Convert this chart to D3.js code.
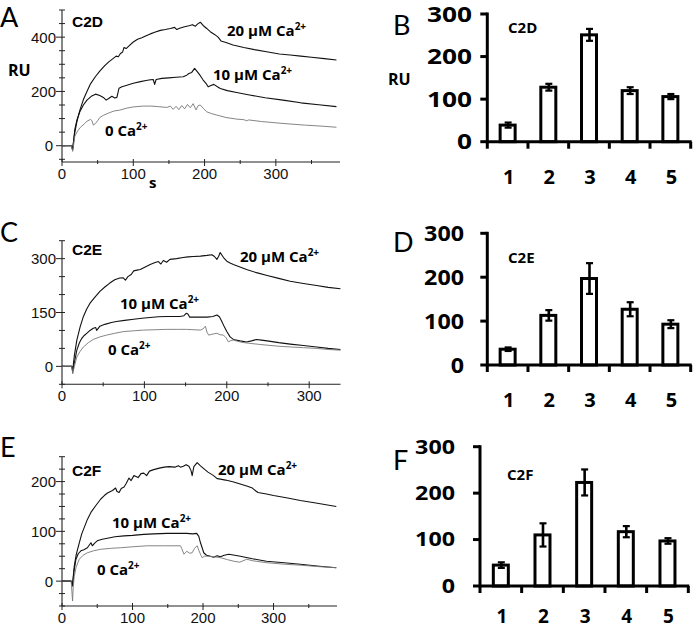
<!DOCTYPE html>
<html><head><meta charset="utf-8">
<script src="https://cdn.jsdelivr.net/npm/d3@7/dist/d3.min.js"></script>
<style>body{margin:0;background:#fff}</style>
</head><body>
<svg id="fig" width="693" height="630"></svg>
<script>
// ---------- DATA ----------
// Sensorgrams: [time (s), response (RU)]
const c2d_20 = [[0,0],[13,0],[15,-10],[18,50],[21,90],[25,130],[30,170],[35,200],[40,228],[47,255],[53,275],[60,295],[66,310],[72,322],[76,330],[79,328],[82,340],[85,345],[87,362],[90,358],[94,368],[100,382],[106,392],[112,398],[118,405],[124,412],[130,418],[138,425],[145,428],[152,432],[158,436],[161,428],[165,433],[172,438],[178,442],[183,446],[187,440],[190,448],[194,455],[198,443],[203,432],[208,420],[214,410],[219,400],[223,386],[230,380],[240,371],[255,362],[270,354],[287,346],[305,338],[320,334],[335,330],[350,326],[368,321],[385,316]];
const c2d_10 = [[0,0],[13,0],[15,-15],[18,60],[21,95],[25,125],[30,150],[35,168],[41,182],[47,190],[53,185],[58,178],[62,168],[66,175],[70,182],[74,176],[77,178],[80,212],[84,217],[90,222],[100,230],[110,236],[118,240],[124,243],[128,244],[130,226],[132,244],[140,248],[150,250],[160,252],[170,254],[175,260],[178,266],[182,270],[186,285],[190,272],[194,258],[198,242],[202,230],[205,217],[209,222],[213,226],[218,217],[222,211],[232,203],[245,196],[263,187],[285,177],[310,168],[335,158],[360,151],[385,144]];
const c2d_0 = [[0,0],[13,0],[15,-21],[18,35],[22,55],[26,68],[31,80],[35,90],[40,97],[42,92],[44,76],[47,82],[50,92],[53,104],[58,112],[65,120],[73,128],[81,131],[90,138],[100,143],[114,146],[125,146],[135,144],[147,141],[152,146],[156,134],[160,145],[164,133],[168,148],[172,136],[176,152],[180,140],[184,155],[188,132],[191,148],[194,150],[198,138],[203,125],[210,118],[217,113],[230,104],[245,98],[255,96],[259,92],[262,95],[280,89],[310,82],[340,76],[365,72],[385,68]];

const c2e_20 = [[0,0],[12,0],[13,-11],[15,30],[18,73],[22,110],[26,139],[30,160],[34,176],[40,193],[46,209],[52,221],[58,232],[64,241],[70,246],[74,247],[77,240],[80,250],[84,256],[87,266],[91,268],[95,270],[101,277],[107,284],[113,289],[117,292],[120,285],[123,295],[127,290],[131,298],[139,300],[147,303],[153,305],[160,306],[168,307],[176,309],[182,311],[185,306],[188,298],[190,306],[192,317],[196,303],[200,293],[204,288],[208,284],[216,277],[224,270],[236,261],[249,253],[263,245],[277,237],[293,231],[309,225],[323,220],[338,216]];
const c2e_10 = [[0,0],[12,0],[13,-16],[15,10],[18,45],[21,65],[24,78],[27,86],[30,92],[34,100],[38,106],[41,108],[42,100],[44,106],[46,112],[52,117],[60,122],[66,125],[76,128],[87,131],[97,134],[107,136],[117,138],[127,139],[137,139],[143,139],[148,141],[151,148],[153,145],[155,137],[165,137],[176,137],[183,139],[188,143],[191,138],[194,125],[197,110],[200,97],[204,82],[208,75],[216,71],[224,68],[230,71],[236,75],[242,73],[249,71],[263,66],[277,62],[293,58],[309,54],[323,50],[338,47]];
const c2e_0 = [[0,0],[12,0],[13,-21],[15,0],[18,26],[22,42],[26,54],[32,66],[38,75],[46,82],[54,87],[64,92],[75,97],[87,99],[99,101],[113,102],[127,103],[140,103],[151,103],[160,102],[168,101],[171,104],[174,112],[176,95],[178,87],[183,90],[188,92],[192,88],[196,87],[199,80],[202,68],[205,72],[208,73],[218,67],[228,64],[240,61],[249,59],[263,56],[277,54],[293,52],[309,50],[323,47],[338,45]];

const c2f_20 = [[0,0],[13,0],[15,-5],[17.4,30],[20,52],[24.5,77],[28,95],[31.6,108],[36,124],[41,138],[48,152],[55,165],[60,172],[64.5,177],[71.6,182],[76,187],[78,180],[81,178],[84,186],[88,189],[91,196],[95,207],[98,202],[102,212],[108,208],[112,216],[116,217],[120,212],[124,221],[130,224],[138,227],[145,229],[152,230],[160,229],[165,232],[168,229],[172,231],[176,234],[180,231],[183,222],[184.6,212],[187,230],[191.7,238],[196,232],[201,226],[207,219],[215,212],[220,206],[224.7,205],[232,203],[243.5,199],[255,194],[262,191],[270,187],[275,181],[278,178],[290,175],[300,172],[320,167],[338,162],[360,157],[389,150]];
const c2f_10 = [[0,0],[13,0],[15,-10],[17,20],[19.8,44],[23,55],[26.8,61],[31,63],[36,67],[39,73],[41,77],[43,71],[46,76],[50,81],[57,84],[64.5,86],[75,89],[88,91],[100,92],[116,94],[130,95],[149,96],[165,96],[177,96],[185,95],[191,96],[194,90],[196.4,77],[199,66],[201,57],[205,52],[210.6,50],[215,48],[220,51],[224.7,49],[230,52],[236.5,54],[245,52],[253,50],[270,45],[290,40],[315,37],[338,34],[365,30],[389,27]];
const c2f_0 = [[0,0],[13,0],[14,-20],[15,-40],[16,-10],[17.4,10],[20,28],[24.5,44],[30,52],[36,57],[45,61],[55,64],[70,66],[83,67],[100,69],[121,71],[145,71],[168,71],[170,65],[173,54],[177,60],[181,56],[184.6,57],[188,66],[191.7,71],[194,62],[197,52],[199,47],[202,50],[206,50],[215,49],[225,47],[235,43],[243.5,40],[252,38],[262,44],[270,41],[290,37],[315,34],[338,32],[365,29],[389,27]];

const seriesLabels = ["20 µM Ca", "10 µM Ca", "0 Ca"];

// Line-panel tick values
const xMajorTicks = [0, 100, 200, 300];
const xMinorTicks = [50, 150, 250, 350];
const aYMajor = [0, 200, 400];
const aYMinor = [-50, 50, 100, 150, 250, 300, 350, 450, 500];
const cYMajor = [0, 150, 300];
const cYMinor = [-50, 50, 100, 200, 250, 350];
const eYMajor = [0, 100, 200];
const eYMinor = [-50, -25, 25, 50, 75, 125, 150, 175, 225, 250];

// Bar panels
const barCategories = ["1", "2", "3", "4", "5"];
const c2dMeans = [39, 128, 251, 120, 106];
const c2dErrs  = [6, 8, 14, 8, 6];
const c2eMeans = [36, 113, 197, 127, 93];
const c2eErrs  = [4, 12, 35, 16, 9];
const c2fMeans = [45, 110, 223, 117, 97];
const c2fErrs  = [6, 25, 28, 12, 6];
const barYTicks = [0, 100, 200, 300];

// ---------- DRAWING ----------
const svg = d3.select("#fig");
const SANS = "'Liberation Sans', Arial, sans-serif";
const BOLD = "'Open Sans', sans-serif";

function caLabel(g, x, y, main) {
  const t = g.append("text").attr("x", x).attr("y", y)
    .attr("font-family", BOLD).attr("font-weight", "bold").attr("font-size", 15).attr("fill", "#000");
  t.append("tspan").text(main);
  t.append("tspan").attr("font-size", 10).attr("dy", -6).text("2+");
}

function panelLetter(x, y, s) {
  svg.append("text").attr("x", x).attr("y", y).attr("font-family", "Lato, 'Open Sans', sans-serif")
    .attr("font-size", 27).attr("fill", "#000").text(s);
}

function linePanel(cfg) {
  const g = svg.append("g");
  const x = d3.scaleLinear().domain(cfg.xDomain).range([cfg.left, cfg.right]);
  const y = d3.scaleLinear().domain(cfg.yDomain).range([cfg.bottom, cfg.top]);
  const stroke = "#222";
  g.append("line").attr("x1", cfg.left).attr("x2", cfg.left).attr("y1", cfg.top).attr("y2", cfg.bottom)
    .attr("stroke", stroke).attr("stroke-width", 1.1);
  g.append("line").attr("x1", cfg.left).attr("x2", cfg.right).attr("y1", cfg.bottom).attr("y2", cfg.bottom)
    .attr("stroke", stroke).attr("stroke-width", 1.1);
  cfg.yMinor.forEach(v => g.append("line").attr("x1", cfg.left - 3).attr("x2", cfg.left + 3)
    .attr("y1", y(v)).attr("y2", y(v)).attr("stroke", stroke).attr("stroke-width", 1));
  cfg.yMajor.forEach(v => {
    g.append("line").attr("x1", cfg.left - 6).attr("x2", cfg.left + 3)
      .attr("y1", y(v)).attr("y2", y(v)).attr("stroke", stroke).attr("stroke-width", 1);
    g.append("text").attr("x", cfg.left - (v === 0 ? 9 : 6)).attr("y", y(v)).attr("dy", "0.36em")
      .attr("text-anchor", "end").attr("font-family", SANS).attr("font-size", 15).attr("fill", "#111").text(v);
  });
  xMinorTicks.filter(v => x(v) <= cfg.right).forEach(v => g.append("line")
    .attr("x1", x(v)).attr("x2", x(v)).attr("y1", cfg.bottom - 2).attr("y2", cfg.bottom + 2)
    .attr("stroke", stroke).attr("stroke-width", 1));
  xMajorTicks.forEach(v => {
    g.append("line").attr("x1", x(v)).attr("x2", x(v)).attr("y1", cfg.bottom - 3).attr("y2", cfg.bottom + 4)
      .attr("stroke", stroke).attr("stroke-width", 1);
    g.append("text").attr("x", x(v)).attr("y", cfg.bottom + 16.5).attr("text-anchor", "middle")
      .attr("font-family", SANS).attr("font-size", 15).attr("fill", "#111").text(v);
  });
  const line = d3.line().x(d => x(d[0])).y(d => y(d[1]));
  const styles = [{c: "#111", w: 1.1}, {c: "#111", w: 1.1}, {c: "#777", w: 0.9}];
  cfg.series.forEach((s, i) => g.append("path").datum(s).attr("d", line).attr("fill", "none")
    .attr("stroke", styles[i].c).attr("stroke-width", styles[i].w).attr("stroke-linejoin", "round"));
  g.append("text").attr("x", cfg.name[1]).attr("y", cfg.name[2]).attr("font-family", SANS)
    .attr("font-weight", "bold").attr("font-size", 15.5).attr("fill", "#000").text(cfg.name[0]);
  cfg.labels.forEach((p, i) => caLabel(g, p[0], p[1], seriesLabels[i]));
}

function barPanel(cfg) {
  const g = svg.append("g");
  const x = d3.scaleBand().domain(barCategories).range([cfg.left, cfg.right]).padding(0);
  const y = d3.scaleLinear().domain([0, 300]).range([cfg.bottom, cfg.top]);
  const bw = 18;
  g.selectAll("rect.bar").data(cfg.means).enter().append("rect")
    .attr("x", (d, i) => x(barCategories[i]) + x.bandwidth() / 2 - bw / 2 + 1.5)
    .attr("y", d => y(d)).attr("width", bw - 3).attr("height", d => y(0) - y(d))
    .attr("fill", "#fff").attr("stroke", "#000").attr("stroke-width", 3);
  cfg.means.forEach((m, i) => {
    const cx = x(barCategories[i]) + x.bandwidth() / 2 + 0.5;
    const e = cfg.errs[i];
    g.append("line").attr("x1", cx).attr("x2", cx).attr("y1", y(m + e)).attr("y2", y(m - e))
      .attr("stroke", "#000").attr("stroke-width", 2.6);
    [m + e, m - e].forEach(v => g.append("line").attr("x1", cx - 3.5).attr("x2", cx + 3.5)
      .attr("y1", y(v)).attr("y2", y(v)).attr("stroke", "#000").attr("stroke-width", 2.2));
  });
  g.append("line").attr("x1", cfg.left).attr("x2", cfg.left).attr("y1", y(300) - 1.5).attr("y2", y(0) + 1.5)
    .attr("stroke", "#000").attr("stroke-width", 3);
  g.append("line").attr("x1", cfg.left).attr("x2", cfg.right + 1).attr("y1", y(0)).attr("y2", y(0))
    .attr("stroke", "#000").attr("stroke-width", 3);
  barYTicks.forEach(v => {
    g.append("line").attr("x1", cfg.left - 7).attr("x2", cfg.left).attr("y1", y(v)).attr("y2", y(v))
      .attr("stroke", "#000").attr("stroke-width", 3);
    const s = String(v);
    g.append("text").attr("x", cfg.labelRight).attr("y", y(v)).attr("dy", "0.36em").attr("text-anchor", "end")
      .attr("font-family", BOLD).attr("font-weight", "bold").attr("font-size", cfg.tickFont)
      .attr("textLength", cfg.digitW * s.length).attr("lengthAdjust", "spacingAndGlyphs").text(s);
  });
  const bounds = barCategories.map(c => x(c)).concat([cfg.right]);
  bounds.forEach(b => g.append("line").attr("x1", b).attr("x2", b).attr("y1", y(0)).attr("y2", y(0) + 7)
    .attr("stroke", "#000").attr("stroke-width", 3));
  barCategories.forEach(c => g.append("text").attr("x", x(c) + x.bandwidth() / 2 + 1).attr("y", y(0) + cfg.catDy)
    .attr("text-anchor", "middle").attr("font-family", BOLD).attr("font-weight", "bold")
    .attr("font-size", cfg.catFont).text(c));
  g.append("text").attr("x", cfg.name[1]).attr("y", cfg.name[2]).attr("font-family", BOLD)
    .attr("font-weight", "bold").attr("font-size", 15).text(cfg.name[0]);
}

// Panel A
linePanel({left: 62, right: 340, top: 10, bottom: 162, xDomain: [0, 390], yDomain: [-60, 500],
  yMajor: aYMajor, yMinor: aYMinor, series: [c2d_20, c2d_10, c2d_0], name: ["C2D", 72, 27],
  labels: [[227, 36], [213, 80], [105, 136]]});
// Panel C
linePanel({left: 62, right: 340.5, top: 240.7, bottom: 384.3, xDomain: [0, 338], yDomain: [-50, 350],
  yMajor: cYMajor, yMinor: cYMinor, series: [c2e_20, c2e_10, c2e_0], name: ["C2E", 72, 255],
  labels: [[240, 262], [120, 309], [108, 355]]});
// Panel E
linePanel({left: 62, right: 337, top: 456.7, bottom: 606, xDomain: [0, 390], yDomain: [-50, 250],
  yMajor: eYMajor, yMinor: eYMinor, series: [c2f_20, c2f_10, c2f_0], name: ["C2F", 72, 476],
  labels: [[218, 475], [112, 528], [97, 575]]});

// axis titles for panel A
svg.append("text").attr("x", 8).attr("y", 76).attr("font-family", BOLD).attr("font-weight", "bold")
  .attr("font-size", 16).text("RU");
svg.append("text").attr("x", 149).attr("y", 188).attr("font-family", BOLD).attr("font-weight", "bold")
  .attr("font-size", 15).text("s");

// Bar panels
barPanel({left: 487.3, right: 690.7, top: 14, bottom: 141.7, means: c2dMeans, errs: c2dErrs,
  labelRight: 472, tickFont: 21, digitW: 15, catFont: 20, catDy: 42, name: ["C2D", 508, 33]});
barPanel({left: 487.3, right: 690.7, top: 233.3, bottom: 365, means: c2eMeans, errs: c2eErrs,
  labelRight: 464, tickFont: 21, digitW: 13.3, catFont: 20, catDy: 42, name: ["C2E", 508, 263]});
barPanel({left: 480, right: 688.3, top: 446.7, bottom: 586, means: c2fMeans, errs: c2fErrs,
  labelRight: 455, tickFont: 19, digitW: 13.3, catFont: 19, catDy: 37, name: ["C2F", 507, 480]});

svg.append("text").attr("x", 388).attr("y", 85).attr("font-family", BOLD).attr("font-weight", "bold")
  .attr("font-size", 16).text("RU");

// Panel letters
panelLetter(0, 27, "A");
panelLetter(393, 35, "B");
panelLetter(0, 242, "C");
panelLetter(393, 252, "D");
panelLetter(0, 457, "E");
panelLetter(393, 470, "F");
</script>
</body></html>
